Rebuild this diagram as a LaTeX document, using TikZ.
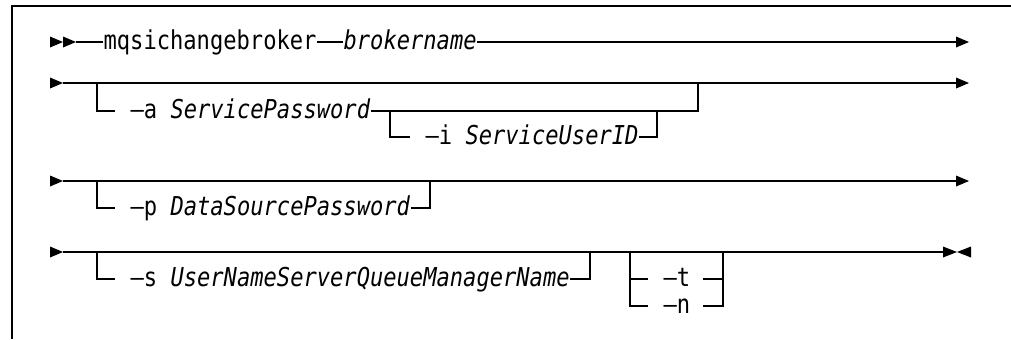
\documentclass[tikz,border=0pt]{standalone}
\usepackage{fontspec}
\setmonofont[FakeStretch=0.85]{DejaVu Sans Mono}

\begin{document}
\begin{tikzpicture}[x=0.5pt,y=-0.5pt,
  line width=0.6pt,
  font=\ttfamily\fontsize{13}{15}\selectfont,
  kw/.style={anchor=base west,inner sep=0pt,yshift=-3.5pt},
  head/.style={fill=black}]

\useasboundingbox (0,0) rectangle (1011,339);

%draw frame
    \draw (12,339) -- (12,6) -- (1011,6);

%draw start and end heads
    \foreach \y in {42,83,181,252}
    \fill[head] (50,\y-5.5) -- ++(13,5.5) -- ++(-13,5.5) -- cycle;
    \fill[head] (63,36.5) -- ++(13,5.5) -- ++(-13,5.5) -- cycle;
    \foreach \y in {42,83,181}
    \fill[head] (956,\y-5.5) -- ++(13,5.5) -- ++(-13,5.5) -- cycle;
    \fill[head] (943,246.5) -- ++(14,5.5) -- ++(-14,5.5) -- cycle;
    \fill[head] (971,246.5) -- ++(-14,5.5) -- ++(14,5.5) -- cycle;

%first line: command and broker name
    \coordinate (r1s) at (76,42);
    \coordinate (r1e) at (956,42);
    \node[kw] (mqsi) at (103,42) {mqsichangebroker};
    \node[kw] (bname) at (343,42) {\textit{brokername}};
    \draw (r1s) -- (mqsi.west |- r1s);
    \draw (mqsi.east |- r1s) -- (bname.west |- r1s);
    \draw (bname.east |- r1s) -- (r1e);

%second line: -a and nested -i
    \coordinate (r2s) at (63,83);
    \coordinate (r2e) at (956,83);
    \draw (r2s) -- (r2e);
    \coordinate (ajoin) at (97,83);
    \coordinate (astub) at (115,111);
    \coordinate (aback) at (698,83);
    \node[kw] (aflag) at (130,111) {–a \textit{ServicePassword}};
    \draw (ajoin) |- (astub);
    \draw (aflag.east |- astub) -| (aback);
    \coordinate (ibranch) at (390,111);
    \coordinate (istub) at (410,137);
    \coordinate (iback) at (657,111);
    \node[kw] (iflag) at (425,137) {–i \textit{ServiceUserID}};
    \draw (ibranch) |- (istub);
    \draw (iflag.east |- istub) -| (iback);

%third line: -p
    \coordinate (r3s) at (63,181);
    \coordinate (r3e) at (956,181);
    \draw (r3s) -- (r3e);
    \coordinate (pjoin) at (97,181);
    \coordinate (pstub) at (115,208);
    \coordinate (pback) at (430,181);
    \node[kw] (pflag) at (130,208) {–p \textit{DataSourcePassword}};
    \draw (pjoin) |- (pstub);
    \draw (pflag.east |- pstub) -| (pback);

%fourth line: -s and the -t / -n choice
    \coordinate (r4s) at (63,252);
    \coordinate (r4e) at (943,252);
    \draw (r4s) -- (r4e);
    \coordinate (sjoin) at (97,252);
    \coordinate (sstub) at (115,279);
    \coordinate (sback) at (590,252);
    \node[kw] (sflag) at (130,279) {–s \textit{UserNameServerQueueManagerName}};
    \draw (sjoin) |- (sstub);
    \draw (sflag.east |- sstub) -| (sback);
    \coordinate (tjoin) at (630,252);
    \coordinate (tback) at (723,252);
    \coordinate (tstub) at (648,279);
    \coordinate (nstub) at (648,306);
    \coordinate (tend) at (703,279);
    \coordinate (nend) at (703,306);
    \node[kw] (tflag) at (663,279) {–t};
    \node[kw] (nflag) at (663,306) {–n};
    \draw (tjoin) |- (nstub);
    \draw (tjoin |- tstub) -- (tstub);
    \draw (nend) -| (tback);
    \draw (tend) -- (tback |- tend);

\end{tikzpicture}
\end{document}
